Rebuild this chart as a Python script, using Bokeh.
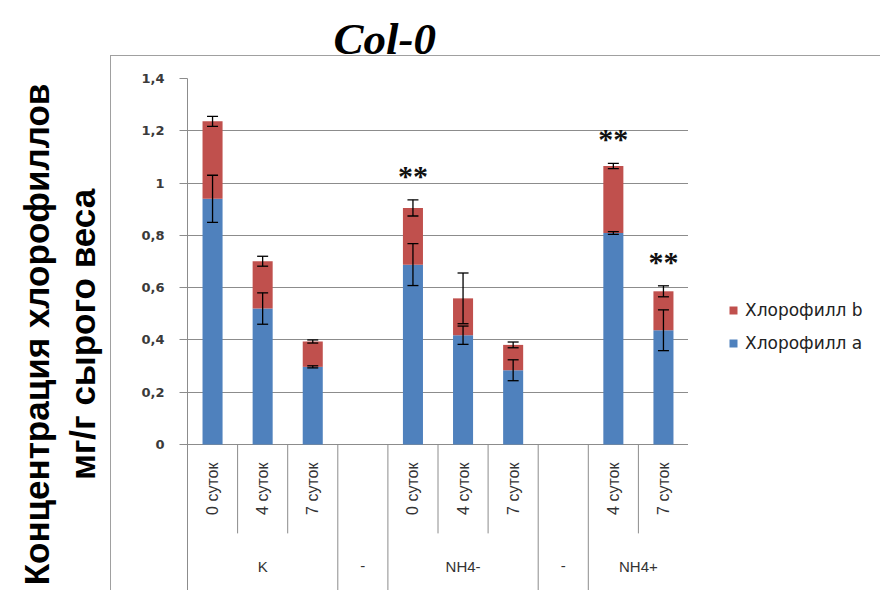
import math
from bokeh.plotting import figure
from bokeh.layouts import row
from bokeh.models import (ColumnDataSource, FactorRange, Range1d, FixedTicker, Whisker,
                          TeeHead, Legend, LegendItem)
from bokeh.core.properties import value
from bokeh.embed import file_html
from bokeh.resources import INLINE

# ---------------- data ----------------
title_text = "Col-0"
y_label = "Концентрация хлорофиллов\nмг/г сырого веса"
groups = ["K", "-", "NH4-", "-", "NH4+"]
group_days = [["0 суток", "4 суток", "7 суток"], [""],
              ["0 суток", "4 суток", "7 суток"], [""],
              ["4 суток", "7 суток"]]

bar_group = [0, 0, 0, 2, 2, 2, 4, 4]          # index into groups
bar_day = ["0 суток", "4 суток", "7 суток",
           "0 суток", "4 суток", "7 суток",
           "4 суток", "7 суток"]
chl_a = [0.940, 0.520, 0.297, 0.688, 0.418, 0.284, 0.809, 0.437]
chl_b = [0.296, 0.181, 0.097, 0.217, 0.141, 0.097, 0.256, 0.149]
err_a = [0.090, 0.060, 0.004, 0.080, 0.035, 0.040, 0.005, 0.078]
err_total = [0.019, 0.019, 0.006, 0.031, 0.097, 0.011, 0.010, 0.021]
significant = [False, False, False, True, False, False, True, True]
series_names = ["Хлорофилл a", "Хлорофилл b"]
series_colors = ["#4F81BD", "#C0504D"]
y_ticks = [0, 0.2, 0.4, 0.6, 0.8, 1.0, 1.2, 1.4]
y_tick_labels = ["0", "0,2", "0,4", "0,6", "0,8", "1", "1,2", "1,4"]

# ---------------- layout constants ----------------
Y_BOTTOM = -0.5585          # extra room below zero for the category table
SUB_DIV_END = -0.34         # end of the short separators
GRAY = "#8c8c8c"
BORDER = "#a0a0a0"

def key(gi, day):
    return f"{gi}|{day}"

slot_keys = []
slot_days = []
slot_group_start = []
for gi, days in enumerate(group_days):
    for j, d in enumerate(days):
        slot_keys.append(key(gi, d))
        slot_days.append(d)
        slot_group_start.append(j == 0)

x_range = FactorRange(factors=slot_keys, factor_padding=0, range_padding=0)
y_range = Range1d(Y_BOTTOM, y_ticks[-1])

p = figure(width=688, height=590, x_range=x_range, y_range=y_range,
           x_axis_location=None, output_backend="svg", toolbar_location=None,
           min_border_left=187, min_border_right=0, min_border_top=78,
           min_border_bottom=0)
p.outline_line_color = None
p.xgrid.visible = False
p.background_fill_color = "white"
p.border_fill_color = None
# thin chart-area border (as in the spreadsheet picture), drawn behind the canvas
p.styles = {
    "background": (f"linear-gradient({BORDER}, {BORDER}) 110px 55px / 1px 100% no-repeat, "
                   f"linear-gradient({BORDER}, {BORDER}) 110px 55px / 100% 1px no-repeat, "
                   "white"),
}

# y axis and grid
p.yaxis.ticker = FixedTicker(ticks=y_ticks)
p.ygrid.ticker = FixedTicker(ticks=y_ticks)
p.yaxis.major_label_overrides = {t: l for t, l in zip(y_ticks, y_tick_labels)}
p.ygrid.grid_line_color = GRAY
p.ygrid.grid_line_width = 1
p.yaxis.axis_line_color = GRAY
p.yaxis.major_tick_line_color = GRAY
p.yaxis.major_tick_out = 8
p.yaxis.major_tick_in = 0
p.yaxis.minor_tick_line_color = None
p.yaxis.major_label_standoff = 15
p.yaxis.major_label_text_font = "DejaVu Sans"
p.yaxis.major_label_text_font_size = "13px"
p.yaxis.major_label_text_font_style = "bold"
p.yaxis.major_label_text_color = "#3a3a3a"
p.yaxis.axis_label = y_label
p.yaxis.axis_label_text_font = "Liberation Sans"
p.yaxis.axis_label_text_font_size = "35px"
p.yaxis.axis_label_text_font_style = "bold"
p.yaxis.axis_label_text_color = "black"
p.yaxis.axis_label_standoff = 36

# title
p.title.text = title_text
p.title.align = "left"
p.title.offset = 146
p.title.text_font = "Liberation Serif"
p.title.text_font_style = "bold italic"
p.title.text_font_size = "45px"
p.title.text_color = "black"
p.title.vertical_align = "top"
p.title.standoff = 26

# bars
src = ColumnDataSource(dict(
    x=[key(g, d) for g, d in zip(bar_group, bar_day)],
    a=chl_a, b=chl_b,
))
renderers = p.vbar_stack(["a", "b"], x="x", width=0.4, color=series_colors,
                         line_color=None, source=src)

# error bars
tot = [a + b for a, b in zip(chl_a, chl_b)]
err_src = ColumnDataSource(dict(
    x=[key(g, d) for g, d in zip(bar_group, bar_day)] * 2,
    upper=[a + e for a, e in zip(chl_a, err_a)] + [t + e for t, e in zip(tot, err_total)],
    lower=[a - e for a, e in zip(chl_a, err_a)] + [t - e for t, e in zip(tot, err_total)],
))
whisk = Whisker(base="x", upper="upper", lower="lower", source=err_src,
                dimension="height", line_color="black", line_width=1.3,
                upper_head=TeeHead(size=11, line_color="black", line_width=1.3),
                lower_head=TeeHead(size=11, line_color="black", line_width=1.3),
                level="annotation")
p.add_layout(whisk)

# significance stars
star_src = ColumnDataSource(dict(
    x=[key(g, d) for g, d, s in zip(bar_group, bar_day, significant) if s],
    y=[t + e for t, e, s in zip(tot, err_total, significant) if s],
    text=["**" for s in significant if s],
))
p.text(x="x", y="y", text="text", source=star_src, text_align="center",
       text_baseline="bottom", y_offset=-8, text_font=value("Liberation Serif"),
       text_font_size="30px", text_font_style="bold", text_color="#111111")

# category table below the plot
p.text(x=slot_keys, y=[0] * len(slot_keys), text=slot_days, angle=math.pi / 2,
       text_align="right", text_baseline="middle", y_offset=18,
       text_font=value("Liberation Sans"), text_font_size="16px",
       text_color="#333333")

g_x = []
for gi, days in enumerate(group_days):
    g_x.append((key(gi, days[0]), (len(days) - 1) / 2))
p.text(x=g_x, y=[0] * len(groups), text=groups, text_align="center",
       text_baseline="middle", y_offset=122, text_font=value("Liberation Sans"),
       text_font_size="15px", text_color="#333333")

sx, sy0, sy1 = [], [], []
for i, k in enumerate(slot_keys):
    if i == 0:
        continue
    sx.append((k, -0.5))
    sy0.append(0)
    sy1.append(Y_BOTTOM if slot_group_start[i] else SUB_DIV_END)
sx.append((slot_keys[-1], 0.5))
sy0.append(0)
sy1.append(Y_BOTTOM)
p.segment(x0=sx, x1=sx, y0=sy0, y1=sy1, line_color=GRAY, line_width=1)

# ---------------- legend panel (to the right of the plot area) ----------------
pl = figure(width=192, height=590, x_range=Range1d(0, 1), y_range=Range1d(0, 1),
            x_axis_location=None, y_axis_location=None, output_backend="svg",
            toolbar_location=None, min_border=0)
pl.grid.visible = False
pl.outline_line_color = None
pl.background_fill_color = None
pl.border_fill_color = None
pl.styles = {
    "background": (f"linear-gradient({BORDER}, {BORDER}) 0px 55px / 100% 1px no-repeat, "
                   "white"),
}
# zero-size proxy glyphs that only carry the legend swatches
proxy_a = pl.vbar(x=[0], top=[0], bottom=[0], width=0, color=series_colors[0], line_color=None)
proxy_b = pl.vbar(x=[0], top=[0], bottom=[0], width=0, color=series_colors[1], line_color=None)
legend = Legend(items=[LegendItem(label=series_names[1], renderers=[proxy_b]),
                       LegendItem(label=series_names[0], renderers=[proxy_a])],
                location=(40, 237), padding=0, margin=0, spacing=13,
                glyph_width=10, glyph_height=10, label_standoff=7,
                label_text_font="DejaVu Sans", label_text_font_size="17px",
                label_text_color="#222222", border_line_color=None,
                background_fill_alpha=0)
pl.add_layout(legend)

layout = row(p, pl, spacing=0)
open("out.html", "w").write(file_html(layout, INLINE))
